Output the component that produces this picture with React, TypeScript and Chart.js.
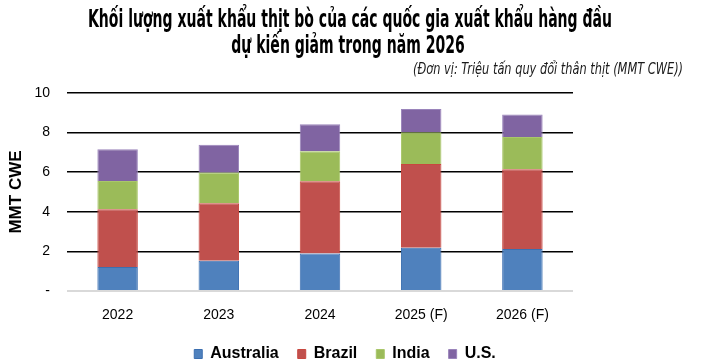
import React, { useEffect, useRef } from "react";
import { Chart, registerables } from "chart.js";

Chart.register(...registerables);

const categories = ["2022", "2023", "2024", "2025 (F)", "2026 (F)"];
const australia = [1.21, 1.53, 1.9, 2.19, 2.12];
const brazil = [2.92, 2.9, 3.64, 4.22, 4.03];
const india = [1.43, 1.55, 1.52, 1.61, 1.63];
const us = [1.6, 1.41, 1.36, 1.17, 1.13];
const yTicks = [0, 2, 4, 6, 8, 10];

const titleLines = [
  "Khối lượng xuất khẩu thịt bò của các quốc gia xuất khẩu hàng đầu",
  "dự kiến giảm trong năm 2026",
];
const subtitleText = "(Đơn vị: Triệu tấn quy đổi thân thịt (MMT CWE))";

const condensed = "'DejaVu Sans Condensed', 'Liberation Sans Narrow', sans-serif";

// Draws the condensed headline and unit note above the plot
const headerPlugin = {
  id: "header",
  afterDraw(chart: any) {
    const ctx = chart.ctx as CanvasRenderingContext2D;
    ctx.save();
    ctx.fillStyle = "#000";
    ctx.textBaseline = "alphabetic";
    ctx.textAlign = "center";
    ctx.font = `bold 24px ${condensed}`;
    const w1 = ctx.measureText(titleLines[0]).width;
    const k = Math.min(1, 524 / w1);
    ctx.fillText(titleLines[0], 350, 26.5, w1 * k);
    const w2 = ctx.measureText(titleLines[1]).width;
    ctx.fillText(titleLines[1], 348, 52.5, w2 * k);
    ctx.textAlign = "right";
    ctx.fillStyle = "#1a1a1a";
    ctx.font = `italic 15px ${condensed}`;
    const w3 = ctx.measureText(subtitleText).width;
    ctx.fillText(subtitleText, 683, 73.5, Math.min(w3, 270));
    ctx.restore();
  },
};

export default function App() {
  const ref = useRef<HTMLCanvasElement | null>(null);
  useEffect(() => {
    document.body.style.margin = "0";
    const canvas = ref.current;
    if (!canvas) return;
    const chart = new Chart(canvas, {
      type: "bar",
      data: {
        labels: categories,
        datasets: [
          { label: "Australia", data: australia, backgroundColor: "#4f81bd", borderColor: "#3c6fb0", borderWidth: 1 },
          { label: "Brazil", data: brazil, backgroundColor: "#c0504d", borderColor: "#c8473f", borderWidth: 1 },
          { label: "India", data: india, backgroundColor: "#9bbb59", borderColor: "#a9c76a", borderWidth: 1 },
          { label: "U.S.", data: us, backgroundColor: "#8064a2", borderColor: "#9a84bb", borderWidth: 1 },
        ],
      },
      plugins: [headerPlugin],
      options: {
        animation: false,
        responsive: false,
        maintainAspectRatio: false,
        layout: { padding: { left: 0, right: 30, top: 93, bottom: -11 } },
        datasets: { bar: { categoryPercentage: 1, barPercentage: 0.4 } },
        plugins: {
          title: { display: false },
          subtitle: { display: false },
          legend: {
            position: "bottom",
            labels: {
              color: "#000",
              boxWidth: 8,
              boxHeight: 9,
              padding: 19,
              font: { family: "'Liberation Sans', Arial, sans-serif", size: 16, weight: "bold" },
            },
          },
          tooltip: { enabled: false },
        },
        scales: {
          x: {
            stacked: true,
            grid: { display: false, drawTicks: false },
            border: { display: false },
            ticks: {
              color: "#000",
              padding: 16,
              font: { family: "'Liberation Sans', Arial, sans-serif", size: 14 },
            },
            afterFit: (s: any) => {
              s.height = 36;
            },
          },
          y: {
            stacked: true,
            min: 0,
            max: 10,
            afterBuildTicks: (s: any) => {
              s.ticks = yTicks.map((v) => ({ value: v }));
            },
            grid: {
              drawTicks: false,
              color: (c: any) => (c.tick && c.tick.value === 0 ? "#d9d9d9" : "#000"),
              lineWidth: (c: any) => (c.tick && c.tick.value === 0 ? 2 : 1.6),
            },
            border: { display: false },
            ticks: {
              color: "#000",
              padding: 17,
              font: { family: "'Liberation Sans', Arial, sans-serif", size: 14 },
              callback: (v: any) => (Number(v) === 0 ? "-" : String(v)),
            },
            title: {
              display: true,
              text: "MMT CWE",
              color: "#000",
              font: { family: "'Liberation Sans', Arial, sans-serif", size: 17, weight: "bold" },
              padding: { top: 6, bottom: 0 },
            },
            afterFit: (s: any) => {
              s.width = 67;
            },
          },
          yRight: {
            position: "right",
            display: true,
            grid: { display: false, drawTicks: false },
            border: { display: false },
            ticks: { display: false },
            afterFit: (s: any) => {
              s.width = 117;
            },
          },
        },
      },
    });
    return () => chart.destroy();
  }, []);
  return <canvas ref={ref} width={720} height={361} style={{ display: "block" }} />;
}
